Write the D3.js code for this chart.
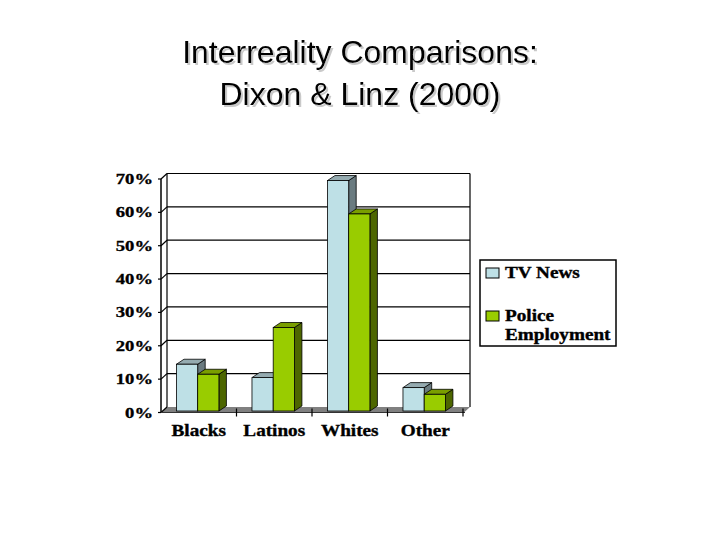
<!DOCTYPE html>
<html><head><meta charset="utf-8">
<script src="https://cdn.jsdelivr.net/npm/d3@7/dist/d3.min.js"></script>
<style>body{margin:0;background:#fff}svg{display:block}</style>
</head><body>
<svg id="c" width="720" height="540"></svg>
<script>
const categories = ["Blacks", "Latinos", "Whites", "Other"];
const series = ["TV News", "Police Employment"];
const tvNews = [0.14, 0.10, 0.69, 0.07];
const policeEmployment = [0.11, 0.25, 0.59, 0.05];
const yTicks = [0, 0.1, 0.2, 0.3, 0.4, 0.5, 0.6, 0.7];
const titleLines = ["Interreality Comparisons:", "Dixon & Linz (2000)"];

const values = [tvNews, policeEmployment];
const colors = [
  {front: "#bee0e6", top: "#95abb0", side: "#6a7b80"},
  {front: "#99cc00", top: "#7a9e00", side: "#4d6600"}
];

const svg = d3.select("#c");
const serif = "'Liberation Serif','Times New Roman',serif";

const defs = svg.append("defs");
const f = defs.append("filter").attr("id", "shadow").attr("x", "-5%").attr("y", "-20%").attr("width", "110%").attr("height", "140%");
f.append("feDropShadow").attr("dx", 2).attr("dy", 2).attr("stdDeviation", 0.4)
  .attr("flood-color", "#bbbbbb").attr("flood-opacity", 0.8);

// geometry
const backLeft = 167, backRight = 470;
const depthX = 6, depthY = 5.5;
const yBack = d3.scaleLinear().domain([0, 0.7]).range([407, 173.5]);
const yFront = v => yBack(v) + depthY;
const yBar = d3.scaleLinear().domain([0, 0.7]).range([411, 411 - 233.8]);
const x0 = d3.scaleBand().domain(categories).range([161, 463]).padding(0);
const bw = x0.bandwidth();
const x1 = d3.scaleBand().domain(series).range([bw * 0.205, bw * 0.767]).padding(0);
const barDX = 7.5, barDY = 5;

function stretchedText(g, x, y, txt, anchor, size) {
  return g.append("g").attr("transform", `translate(${x},${y}) scale(1.2,1)`)
    .append("text").attr("text-anchor", anchor)
    .attr("font-family", serif).attr("font-weight", "bold")
    .attr("font-size", size).attr("fill", "#000")
    .attr("stroke", "#000").attr("stroke-width", 0.35).text(txt);
}

// title
const tg = svg.append("g").attr("filter", "url(#shadow)");
titleLines.forEach((line, i) => {
  tg.append("text").attr("x", 360).attr("y", 63 + i * 42).attr("text-anchor", "middle")
    .attr("font-family", "'Liberation Sans',Arial,sans-serif").attr("font-size", 32)
    .attr("fill", "#000").text(line);
});

const chart = svg.append("g");

// floor
chart.append("polygon")
  .attr("points", [[backLeft - depthX, yFront(0)], [backRight - depthX, yFront(0)], [backRight, yBack(0)], [backLeft, yBack(0)]].map(p => p.join(",")).join(" "))
  .attr("fill", "#808080").attr("stroke", "none");

// gridlines on back wall + left wall diagonals
yTicks.forEach(v => {
  if (v > 0) {
    chart.append("line").attr("x1", backLeft).attr("x2", backRight)
      .attr("y1", yBack(v)).attr("y2", yBack(v)).attr("stroke", "#000").attr("stroke-width", 1.2);
  }
  chart.append("line").attr("x1", backLeft - depthX).attr("y1", yFront(v))
    .attr("x2", backLeft).attr("y2", yBack(v)).attr("stroke", "#000").attr("stroke-width", 1.2);
  chart.append("line").attr("x1", backLeft - depthX - 3).attr("x2", backLeft - depthX)
    .attr("y1", yFront(v)).attr("y2", yFront(v)).attr("stroke", "#000").attr("stroke-width", 1.2);
  stretchedText(chart, 153, yFront(v) + 5, d3.format(".0%")(v), "end", 15.5);
});
// back wall edges
chart.append("line").attr("x1", backLeft).attr("x2", backLeft).attr("y1", yBack(0.7)).attr("y2", yBack(0)).attr("stroke", "#000").attr("stroke-width", 1.2);
chart.append("line").attr("x1", backRight).attr("x2", backRight).attr("y1", yBack(0.7)).attr("y2", yBack(0)).attr("stroke", "#000").attr("stroke-width", 1.2);
// front left axis
chart.append("line").attr("x1", backLeft - depthX).attr("x2", backLeft - depthX).attr("y1", yFront(0.7)).attr("y2", yFront(0)).attr("stroke", "#000").attr("stroke-width", 1.5);
// front floor edge
chart.append("line").attr("x1", backLeft - depthX).attr("x2", backRight - depthX + 1).attr("y1", yFront(0)).attr("y2", yFront(0)).attr("stroke", "#333").attr("stroke-width", 1.2);
// category ticks
categories.forEach(c => {
  const x = x0(c) + bw;
  chart.append("line").attr("x1", x).attr("x2", x).attr("y1", yFront(0) - 4).attr("y2", yFront(0) + 4).attr("stroke", "#000").attr("stroke-width", 1.2);
});

// bars
categories.forEach((c, ci) => {
  series.forEach((s, si) => {
    const v = values[si][ci];
    const x = x0(c) + x1(s), w = x1.bandwidth();
    const yt = yBar(v), yb = yBar(0);
    const col = colors[si];
    const g = chart.append("g");
    g.append("polygon").attr("points", [[x + w, yt], [x + w + barDX, yt - barDY], [x + w + barDX, yb - barDY], [x + w, yb]].map(p => p.join(",")).join(" "))
      .attr("fill", col.side).attr("stroke", "#000").attr("stroke-width", 0.8);
    g.append("polygon").attr("points", [[x, yt], [x + barDX, yt - barDY], [x + w + barDX, yt - barDY], [x + w, yt]].map(p => p.join(",")).join(" "))
      .attr("fill", col.top).attr("stroke", "#000").attr("stroke-width", 0.8);
    g.append("rect").attr("x", x).attr("y", yt).attr("width", w).attr("height", yb - yt)
      .attr("fill", col.front).attr("stroke", "#000").attr("stroke-width", 0.8);
  });
  stretchedText(chart, x0(c) + bw / 2, 436, c, "middle", 16);
});

// legend
const lg = svg.append("g");
lg.append("rect").attr("x", 480).attr("y", 260).attr("width", 136).attr("height", 86)
  .attr("fill", "#fff").attr("stroke", "#000").attr("stroke-width", 1.5);
const legendRows = [[series[0]], ["Police", "Employment"]];
legendRows.forEach((lines, i) => {
  const y = 268 + i * 43;
  lg.append("rect").attr("x", 486).attr("y", y).attr("width", 13).attr("height", 10)
    .attr("fill", colors[i].front).attr("stroke", "#000").attr("stroke-width", 1);
  lines.forEach((t, j) => stretchedText(lg, 505, y + 10 + j * 19, t, "start", 16));
});
</script>
</body></html>
